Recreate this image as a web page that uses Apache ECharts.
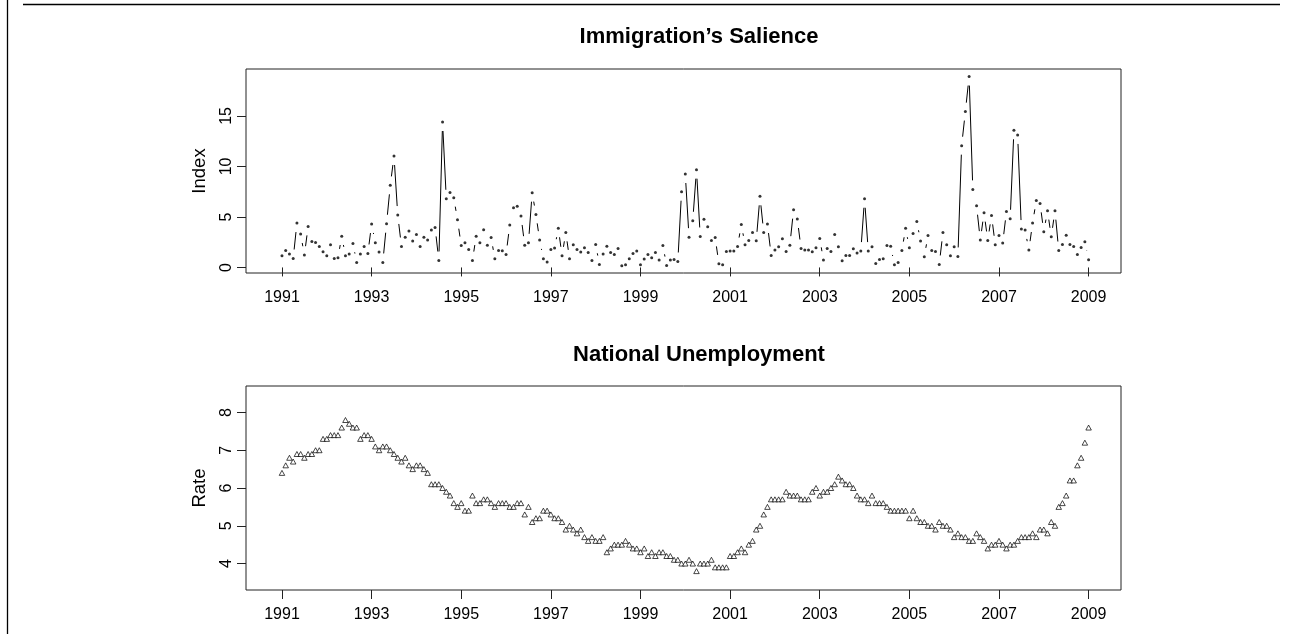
<!DOCTYPE html>
<html>
<head>
<meta charset="utf-8">
<title>Immigration's Salience / National Unemployment</title>
<script src="https://cdn.jsdelivr.net/npm/echarts@6/dist/echarts.min.js"></script>
<style>
  html, body { margin: 0; padding: 0; background: #fff; }
  #chart { width: 1290px; height: 634px; }
</style>
</head>
<body>
<div id="chart"></div>
<script>
// monthly series, Jan 1991 .. Jan 2009
var startYear = 1991
var salience = [
  1.16, 1.68, 1.32, 0.89, 4.39, 3.30, 1.22, 4.06, 2.58, 2.48, 2.08, 1.55, // 1991
  1.16, 2.25, 0.89, 0.96, 3.10, 1.16, 1.32, 2.38, 0.50, 1.32, 2.08, 1.39, // 1992
  4.29, 2.44, 1.52, 0.50, 4.33, 8.13, 11.03, 5.19, 2.08, 3.00, 3.60, 2.61, // 1993
  3.27, 2.08, 3.00, 2.71, 3.70, 3.96, 0.69, 14.40, 6.80, 7.43, 6.90, 4.72, // 1994
  2.18, 2.44, 1.78, 0.69, 3.10, 2.44, 3.73, 2.21, 2.97, 0.86, 1.68, 1.65, // 1995
  1.29, 4.20, 5.91, 6.05, 5.09, 2.21, 2.44, 7.40, 5.25, 2.71, 0.86, 0.53, // 1996
  1.78, 1.92, 3.87, 1.16, 3.47, 0.86, 2.25, 1.78, 1.52, 1.95, 1.49, 0.69, // 1997
  2.28, 0.30, 1.32, 2.11, 1.49, 1.29, 1.88, 0.17, 0.26, 0.86, 1.39, 1.62, // 1998
  0.26, 0.83, 1.29, 0.96, 1.49, 0.73, 2.18, 0.20, 0.73, 0.79, 0.59, 7.50, // 1999
  9.25, 3.00, 4.62, 9.68, 3.07, 4.76, 4.03, 2.68, 2.97, 0.36, 0.26, 1.59, // 2000
  1.62, 1.62, 2.08, 4.26, 2.25, 2.68, 3.47, 2.64, 7.04, 3.47, 4.29, 1.19, // 2001
  1.72, 2.05, 2.84, 1.59, 2.21, 5.72, 4.79, 1.88, 1.72, 1.72, 1.55, 1.95, // 2002
  2.87, 0.73, 1.88, 1.59, 3.27, 2.05, 0.66, 1.19, 1.19, 1.85, 1.42, 1.62, // 2003
  6.80, 1.62, 2.05, 0.40, 0.79, 0.86, 2.18, 2.11, 0.26, 0.50, 1.68, 3.87, // 2004
  1.95, 3.37, 4.56, 2.61, 1.06, 3.17, 1.68, 1.59, 0.30, 3.47, 2.25, 1.16, // 2005
  2.05, 1.09, 12.06, 15.43, 18.90, 7.73, 6.11, 2.71, 5.42, 2.68, 5.15, 2.25, // 2006
  3.17, 2.41, 5.55, 4.82, 13.58, 13.12, 3.80, 3.70, 1.72, 4.39, 6.64, 6.34, // 2007
  3.53, 5.62, 3.04, 5.62, 1.68, 2.28, 3.20, 2.28, 2.08, 1.29, 1.98, 2.54, // 2008
  0.76 // 2009
]
var unemployment = [
  6.4, 6.6, 6.8, 6.7, 6.9, 6.9, 6.8, 6.9, 6.9, 7.0, 7.0, 7.3, // 1991
  7.3, 7.4, 7.4, 7.4, 7.6, 7.8, 7.7, 7.6, 7.6, 7.3, 7.4, 7.4, // 1992
  7.3, 7.1, 7.0, 7.1, 7.1, 7.0, 6.9, 6.8, 6.7, 6.8, 6.6, 6.5, // 1993
  6.6, 6.6, 6.5, 6.4, 6.1, 6.1, 6.1, 6.0, 5.9, 5.8, 5.6, 5.5, // 1994
  5.6, 5.4, 5.4, 5.8, 5.6, 5.6, 5.7, 5.7, 5.6, 5.5, 5.6, 5.6, // 1995
  5.6, 5.5, 5.5, 5.6, 5.6, 5.3, 5.5, 5.1, 5.2, 5.2, 5.4, 5.4, // 1996
  5.3, 5.2, 5.2, 5.1, 4.9, 5.0, 4.9, 4.8, 4.9, 4.7, 4.6, 4.7, // 1997
  4.6, 4.6, 4.7, 4.3, 4.4, 4.5, 4.5, 4.5, 4.6, 4.5, 4.4, 4.4, // 1998
  4.3, 4.4, 4.2, 4.3, 4.2, 4.3, 4.3, 4.2, 4.2, 4.1, 4.1, 4.0, // 1999
  4.0, 4.1, 4.0, 3.8, 4.0, 4.0, 4.0, 4.1, 3.9, 3.9, 3.9, 3.9, // 2000
  4.2, 4.2, 4.3, 4.4, 4.3, 4.5, 4.6, 4.9, 5.0, 5.3, 5.5, 5.7, // 2001
  5.7, 5.7, 5.7, 5.9, 5.8, 5.8, 5.8, 5.7, 5.7, 5.7, 5.9, 6.0, // 2002
  5.8, 5.9, 5.9, 6.0, 6.1, 6.3, 6.2, 6.1, 6.1, 6.0, 5.8, 5.7, // 2003
  5.7, 5.6, 5.8, 5.6, 5.6, 5.6, 5.5, 5.4, 5.4, 5.4, 5.4, 5.4, // 2004
  5.2, 5.4, 5.2, 5.1, 5.1, 5.0, 5.0, 4.9, 5.1, 5.0, 5.0, 4.9, // 2005
  4.7, 4.8, 4.7, 4.7, 4.6, 4.6, 4.8, 4.7, 4.6, 4.4, 4.5, 4.5, // 2006
  4.6, 4.5, 4.4, 4.5, 4.5, 4.6, 4.7, 4.7, 4.7, 4.8, 4.7, 4.9, // 2007
  4.9, 4.8, 5.1, 5.0, 5.5, 5.6, 5.8, 6.2, 6.2, 6.6, 6.8, 7.2, // 2008
  7.6 // 2009
]
var yearTicks = [1991, 1993, 1995, 1997, 1999, 2001, 2003, 2005, 2007, 2009]
var indexTicks = [0, 5, 10, 15]
var rateTicks = [4, 5, 6, 7, 8]

var FONT = '"Liberation Sans", Arial, Helvetica, sans-serif'
var GAP = 9 // px cut off each end of a segment (R type = "b")

function monthX (i) {
  return startYear + i / 12
}

var saliencePts = salience.map(function (v, i) { return [monthX(i), v] })
var unempPts = unemployment.map(function (v, i) { return [monthX(i), v] })
var salienceSegs = []
for (var i = 0; i < salience.length - 1; i++) {
  salienceSegs.push([monthX(i), salience[i], monthX(i + 1), salience[i + 1]])
}

// line pieces between points, shortened at both ends like plot(type = "b")
function gapLine (params, api) {
  var p0 = api.coord([api.value(0), api.value(1)])
  var p1 = api.coord([api.value(2), api.value(3)])
  var dx = p1[0] - p0[0]
  var dy = p1[1] - p0[1]
  var len = Math.sqrt(dx * dx + dy * dy)
  if (len <= 2 * GAP) return null
  var ux = dx / len
  var uy = dy / len
  return {
    type: 'line',
    shape: { x1: p0[0] + ux * GAP, y1: p0[1] + uy * GAP, x2: p1[0] - ux * GAP, y2: p1[1] - uy * GAP },
    style: { stroke: '#000', lineWidth: 1 }
  }
}

function plainNumber (v) {
  return String(v)
}

function xAxisFor (gridIndex) {
  return {
    type: 'value',
    gridIndex: gridIndex,
    min: 1990.197,
    max: 2009.723,
    axisLine: { show: false },
    axisTick: { show: true, inside: false, length: 9, customValues: yearTicks, lineStyle: { color: '#222', width: 1 } },
    axisLabel: { show: true, customValues: yearTicks, formatter: plainNumber, margin: 17, fontSize: 16, color: '#000', fontFamily: FONT },
    splitLine: { show: false }
  }
}

function yAxisFor (gridIndex, min, max, ticks, name) {
  return {
    type: 'value',
    gridIndex: gridIndex,
    min: min,
    max: max,
    name: name,
    nameLocation: 'middle',
    nameRotate: 90,
    nameGap: 37,
    nameTextStyle: { fontSize: 18.5, color: '#000', fontFamily: FONT },
    axisLine: { show: false },
    axisTick: { show: true, inside: false, length: 9, customValues: ticks, lineStyle: { color: '#222', width: 1 } },
    axisLabel: { show: true, customValues: ticks, formatter: plainNumber, rotate: 90, margin: 11, fontSize: 16, color: '#000', fontFamily: FONT },
    splitLine: { show: false }
  }
}

var myChart = echarts.init(document.getElementById('chart'), null, { renderer: 'canvas' })

var option = {
  backgroundColor: '#fff',
  animation: false,
  title: [
    {
      text: 'Immigration’s Salience',
      left: 699,
      top: 26,
      textAlign: 'center',
      padding: 0,
      textStyle: { fontSize: 22, fontWeight: 'bold', color: '#000', fontFamily: FONT }
    },
    {
      text: 'National Unemployment',
      left: 699,
      top: 344,
      textAlign: 'center',
      padding: 0,
      textStyle: { fontSize: 22, fontWeight: 'bold', color: '#000', fontFamily: FONT }
    }
  ],
  grid: [
    { left: 246, right: 169, top: 69, height: 204, show: true, borderColor: '#222', borderWidth: 1, backgroundColor: 'transparent' },
    { left: 246, right: 169, top: 386, height: 204, show: true, borderColor: '#222', borderWidth: 1, backgroundColor: 'transparent' }
  ],
  xAxis: [xAxisFor(0), xAxisFor(1)],
  yAxis: [
    yAxisFor(0, -0.55, 19.65, indexTicks, 'Index'),
    yAxisFor(1, 3.3, 8.7, rateTicks, 'Rate')
  ],
  series: [
    {
      name: 'salience lines',
      type: 'custom',
      xAxisIndex: 0,
      yAxisIndex: 0,
      renderItem: gapLine,
      encode: { x: [0, 2], y: [1, 3] },
      data: salienceSegs,
      silent: true
    },
    {
      name: 'salience',
      type: 'scatter',
      xAxisIndex: 0,
      yAxisIndex: 0,
      symbol: 'circle',
      symbolSize: 3,
      itemStyle: { color: '#000' },
      data: saliencePts
    },
    {
      name: 'unemployment',
      type: 'scatter',
      xAxisIndex: 1,
      yAxisIndex: 1,
      symbol: 'triangle',
      symbolSize: [5.5, 5],
      itemStyle: { color: '#fff', borderColor: '#000', borderWidth: 0.9 },
      data: unempPts
    }
  ],
  graphic: [
    // page frame pieces seen at the edges of the figure
    { type: 'line', shape: { x1: 7.5, y1: 0, x2: 7.5, y2: 634 }, style: { stroke: '#000', lineWidth: 1.3 } },
    { type: 'line', shape: { x1: 23, y1: 4.5, x2: 1280, y2: 4.5 }, style: { stroke: '#000', lineWidth: 1.5 } }
  ]
}

myChart.setOption(option)
</script>
</body>
</html>
